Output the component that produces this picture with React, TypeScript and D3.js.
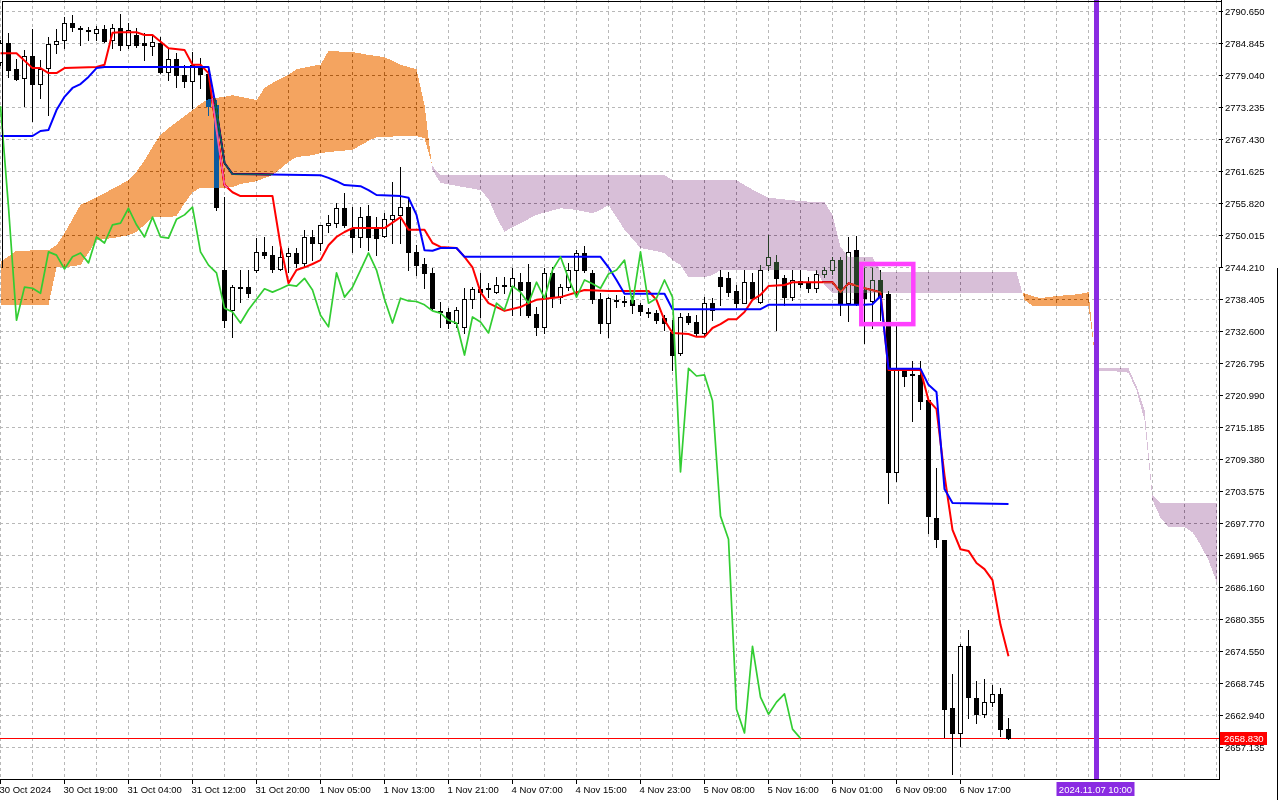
import React, { useEffect, useRef } from 'react';
import * as d3 from 'd3';

type Bar = [number, number, number, number]; // open, high, low, close

// H1 candles from left to right, bar 0 is cut by the left edge
const candles: Bar[] = [
  [2781.4, 2785.4, 2780.9, 2784.9], [2784.8, 2786.7, 2778.7, 2780.0], [2780.1, 2781.9, 2778.1, 2778.3],
  [2778.5, 2783.6, 2773.4, 2782.5], [2782.5, 2787.4, 2770.7, 2777.4], [2777.4, 2781.8, 2774.9, 2780.1],
  [2780.3, 2785.9, 2771.8, 2784.7], [2784.7, 2787.4, 2783.0, 2785.2], [2785.4, 2789.6, 2783.9, 2788.5],
  [2788.5, 2789.9, 2787.0, 2787.8], [2787.6, 2787.9, 2784.5, 2787.4], [2787.2, 2787.8, 2785.4, 2787.1],
  [2786.7, 2787.9, 2785.4, 2787.4], [2787.4, 2788.1, 2785.0, 2785.2], [2785.4, 2788.3, 2783.9, 2787.6],
  [2787.6, 2790.1, 2783.6, 2784.5], [2784.5, 2788.5, 2783.9, 2787.2], [2786.3, 2787.6, 2784.1, 2784.5],
  [2784.8, 2786.7, 2781.8, 2784.5], [2784.3, 2786.1, 2782.7, 2785.0], [2784.8, 2785.9, 2779.4, 2779.6],
  [2779.6, 2783.9, 2778.1, 2781.9], [2781.9, 2783.0, 2776.9, 2779.1], [2779.1, 2780.9, 2776.9, 2778.0],
  [2778.0, 2783.2, 2773.1, 2780.9], [2780.5, 2782.1, 2776.7, 2779.2], [2779.2, 2780.3, 2771.8, 2773.4],
  [2773.6, 2774.5, 2754.6, 2755.1], [2743.7, 2756.9, 2733.4, 2734.6], [2736.5, 2741.0, 2731.6, 2740.6],
  [2740.6, 2743.7, 2737.9, 2740.4], [2740.6, 2743.7, 2738.8, 2739.5], [2743.7, 2749.5, 2743.3, 2747.0],
  [2747.0, 2749.7, 2745.9, 2746.4], [2746.4, 2748.1, 2743.3, 2743.9], [2743.9, 2747.7, 2743.7, 2746.1],
  [2746.2, 2747.7, 2743.3, 2746.8], [2746.8, 2747.7, 2744.2, 2745.0], [2745.0, 2751.0, 2744.2, 2749.7],
  [2749.7, 2751.0, 2745.5, 2748.6], [2748.6, 2751.9, 2747.3, 2751.9], [2751.9, 2753.7, 2750.6, 2752.2],
  [2752.2, 2755.8, 2751.5, 2754.9], [2754.9, 2757.7, 2751.5, 2751.9], [2751.3, 2755.1, 2747.0, 2749.7],
  [2749.7, 2755.1, 2747.9, 2753.3], [2753.5, 2755.5, 2747.3, 2749.7], [2751.3, 2753.3, 2746.4, 2749.5],
  [2749.9, 2754.0, 2749.7, 2752.9], [2752.9, 2759.7, 2748.6, 2753.7], [2753.7, 2762.4, 2748.6, 2755.1],
  [2755.1, 2756.8, 2743.7, 2747.0], [2747.0, 2748.2, 2742.8, 2744.6], [2744.8, 2745.9, 2740.4, 2743.2],
  [2743.2, 2744.1, 2736.5, 2736.8], [2736.3, 2737.9, 2733.4, 2736.1], [2736.1, 2736.8, 2733.2, 2734.1],
  [2734.1, 2737.0, 2733.4, 2736.5], [2733.4, 2740.4, 2732.3, 2738.4], [2738.4, 2740.6, 2736.8, 2740.3],
  [2740.3, 2743.2, 2735.2, 2739.7], [2740.4, 2741.3, 2738.8, 2740.3], [2739.7, 2742.4, 2739.5, 2741.0],
  [2741.0, 2742.4, 2739.5, 2740.8], [2740.8, 2744.1, 2735.5, 2742.2], [2741.5, 2743.2, 2735.5, 2740.1],
  [2741.5, 2744.8, 2735.2, 2735.5], [2735.7, 2737.0, 2731.9, 2733.4], [2733.4, 2744.1, 2732.3, 2743.2],
  [2743.2, 2744.2, 2737.0, 2738.8], [2738.8, 2741.2, 2737.7, 2740.6], [2740.6, 2745.0, 2740.1, 2743.7],
  [2743.7, 2747.3, 2738.8, 2746.8], [2746.8, 2748.0, 2743.3, 2743.7], [2743.2, 2743.7, 2737.7, 2738.4],
  [2738.4, 2739.5, 2732.3, 2734.1], [2734.1, 2738.8, 2731.6, 2738.6], [2738.3, 2739.2, 2737.0, 2738.1],
  [2738.1, 2739.0, 2737.2, 2738.0], [2738.3, 2739.0, 2735.9, 2737.4], [2737.4, 2737.7, 2735.5, 2736.3],
  [2736.1, 2736.8, 2735.2, 2735.9], [2735.9, 2736.5, 2734.1, 2734.6], [2735.0, 2735.5, 2732.8, 2734.1],
  [2732.5, 2734.6, 2725.6, 2728.3], [2728.6, 2735.9, 2728.3, 2735.2], [2735.4, 2735.9, 2733.9, 2734.3],
  [2734.3, 2735.5, 2731.9, 2732.3], [2732.3, 2738.8, 2731.9, 2737.7], [2737.7, 2738.6, 2734.6, 2736.5],
  [2742.4, 2743.7, 2737.4, 2740.8], [2742.3, 2743.3, 2739.0, 2739.7], [2739.9, 2741.0, 2737.0, 2737.7],
  [2737.7, 2743.7, 2737.7, 2741.5], [2741.5, 2743.2, 2738.3, 2738.6], [2737.9, 2744.6, 2737.7, 2743.7],
  [2744.6, 2750.0, 2743.7, 2746.1], [2745.2, 2746.4, 2732.8, 2742.2], [2742.2, 2742.8, 2737.4, 2738.8],
  [2738.8, 2743.7, 2738.3, 2741.9], [2741.7, 2743.7, 2740.6, 2741.2], [2741.3, 2742.4, 2739.7, 2740.4],
  [2740.4, 2743.7, 2739.7, 2743.0], [2743.0, 2744.2, 2742.4, 2743.7], [2743.7, 2746.1, 2743.0, 2745.5],
  [2745.5, 2746.1, 2735.5, 2737.7], [2737.7, 2749.7, 2734.5, 2747.0], [2747.3, 2749.9, 2737.4, 2737.7],
  [2740.1, 2744.1, 2730.5, 2738.6], [2738.1, 2744.1, 2733.2, 2741.9], [2741.9, 2743.7, 2734.6, 2738.8],
  [2739.3, 2739.9, 2701.5, 2707.1], [2707.1, 2733.9, 2705.4, 2725.9], [2725.6, 2725.9, 2722.7, 2724.5],
  [2724.9, 2727.2, 2716.3, 2724.7], [2724.7, 2727.2, 2718.5, 2720.0], [2720.1, 2720.5, 2696.0, 2699.1],
  [2698.7, 2707.8, 2693.5, 2694.9], [2694.8, 2694.8, 2659.1, 2664.1], [2664.3, 2670.5, 2652.3, 2659.8],
  [2659.8, 2675.9, 2657.4, 2675.5], [2675.5, 2678.4, 2662.5, 2666.3], [2666.1, 2669.2, 2661.6, 2663.2],
  [2663.2, 2669.6, 2662.7, 2665.4], [2665.4, 2668.5, 2664.7, 2666.9], [2666.9, 2668.0, 2659.2, 2660.5],
  [2660.5, 2662.5, 2658.7, 2658.83],
];

// tenkan-sen / kijun-sen as [bar, value] break points
const tenkan: [number, number][] = [
  [0, 2783.0], [2, 2783.0], [4, 2780.3], [5, 2780.3], [6, 2779.4], [7, 2779.4], [8, 2780.3], [12, 2780.5],
  [13, 2780.9], [14, 2786.7], [15, 2786.8], [17, 2786.8], [18, 2786.3], [19, 2786.3], [21, 2783.9], [23, 2783.6],
  [24, 2780.9], [25, 2780.9], [26, 2779.4], [27, 2769.1], [28, 2759.1], [29, 2757.8], [30, 2757.1], [34, 2757.1],
  [35, 2748.2], [36, 2741.3], [37, 2743.7], [38, 2744.2], [39, 2744.8], [40, 2745.5], [41, 2748.2], [42, 2749.7],
  [43, 2750.6], [44, 2751.3], [48, 2751.3], [50, 2753.3], [51, 2751.0], [53, 2751.0], [54, 2748.6], [55, 2747.9],
  [57, 2747.7], [58, 2746.1], [59, 2744.2], [60, 2739.7], [61, 2737.7], [63, 2736.3], [65, 2737.0], [66, 2737.7],
  [67, 2738.3], [70, 2738.8], [73, 2740.1], [76, 2739.9], [81, 2739.9], [82, 2738.3], [83, 2734.6], [84, 2732.3],
  [86, 2732.1], [87, 2731.6], [88, 2731.6], [89, 2733.2], [90, 2733.9], [91, 2734.8], [92, 2734.8], [93, 2736.1],
  [94, 2738.3], [95, 2739.2], [96, 2740.8], [98, 2741.0], [99, 2741.5], [104, 2741.5], [105, 2739.7], [106, 2741.3],
  [108, 2740.4], [110, 2739.7], [111, 2725.6], [115, 2725.6], [116, 2720.1], [117, 2718.5], [118, 2706.5],
  [119, 2696.6], [120, 2693.1], [121, 2692.8], [122, 2690.6], [123, 2689.5], [124, 2687.5], [125, 2679.4],
  [126, 2673.7],
];

const kijun: [number, number][] = [
  [0, 2768.0], [4, 2768.0], [5, 2768.9], [6, 2769.1], [7, 2772.7], [8, 2775.1], [9, 2776.7], [10, 2777.4],
  [11, 2778.7], [12, 2780.3], [13, 2780.5], [26, 2780.5], [27, 2772.7], [28, 2763.1], [29, 2761.1], [40, 2760.9],
  [41, 2760.4], [42, 2759.8], [43, 2759.1], [45, 2758.9], [46, 2758.2], [47, 2757.3], [50, 2757.1], [51, 2756.8],
  [52, 2753.7], [53, 2747.3], [54, 2747.2], [55, 2747.7], [57, 2747.7], [58, 2746.1], [75, 2746.1], [76, 2744.2],
  [77, 2741.9], [78, 2739.4], [83, 2739.4], [84, 2736.6], [95, 2736.6], [96, 2737.4], [108, 2737.4], [109, 2737.5],
  [110, 2739.0], [111, 2725.8], [115, 2725.8], [116, 2722.9], [117, 2721.6], [118, 2704.0], [119, 2701.5],
  [126, 2701.3],
];

// senkou span A / B, already drawn 26 bars ahead
const kumoBars = [
  0, 2, 6, 7, 8, 10, 12, 14, 16, 17, 18, 19, 20, 21, 22, 23, 24, 25, 26, 28, 29, 30, 32, 33, 34, 36, 37, 39, 40, 41,
  44, 46, 47, 48, 50, 52, 53, 54, 55, 58, 60, 61, 62, 63, 64, 65, 67, 70, 72, 74, 75, 76, 77, 78, 80, 83, 84, 85, 86,
  88, 89, 90, 92, 93, 95, 96, 100, 102, 103, 104, 105, 106, 109, 110, 127, 128, 129, 130, 132, 134, 135, 136, 137,
  140, 141, 142, 143, 144, 145, 146, 148, 149, 150, 151, 152,
];
const spanA = [
  2745.2, 2747.2, 2747.3, 2748.2, 2750.4, 2755.5, 2756.9, 2758.4, 2760.0, 2761.5, 2763.6, 2766.0, 2768.2, 2769.4,
  2770.5, 2771.6, 2772.7, 2773.8, 2774.7, 2775.1, 2775.4, 2775.1, 2774.5, 2776.7, 2777.6, 2779.1, 2780.1, 2780.7,
  2780.9, 2783.4, 2783.2, 2782.7, 2782.5, 2782.3, 2780.9, 2780.1, 2773.6, 2761.8, 2759.5, 2758.7, 2758.2, 2756.6,
  2753.3, 2750.6, 2751.5, 2752.2, 2753.7, 2754.9, 2754.6, 2754.0, 2754.6, 2755.5, 2753.3, 2751.0, 2747.7, 2746.8,
  2745.5, 2744.6, 2742.4, 2742.4, 2742.8, 2743.7, 2743.7, 2743.7, 2743.7, 2743.7, 2743.7, 2743.5, 2741.0, 2739.5,
  2739.5, 2739.5, 2739.5, 2739.5, 2739.5, 2739.5, 2739.0, 2738.6, 2739.0, 2739.2, 2739.4, 2739.7, 2725.4, 2725.3,
  2725.1, 2721.9, 2716.5, 2702.0, 2698.8, 2697.1, 2697.1, 2696.2, 2693.9, 2691.1, 2687.2,
];
const spanB = [
  2737.4, 2737.4, 2737.4, 2744.2, 2744.2, 2744.6, 2749.1, 2749.5, 2750.0, 2750.6, 2751.9, 2753.3, 2753.3, 2753.3,
  2753.5, 2755.8, 2757.8, 2758.6, 2758.6, 2758.6, 2758.7, 2759.3, 2759.8, 2760.4, 2760.9, 2763.3, 2764.2, 2764.5,
  2764.9, 2765.1, 2765.5, 2767.1, 2767.8, 2767.8, 2768.0, 2768.0, 2767.6, 2762.5, 2760.9, 2760.9, 2760.9, 2760.9,
  2760.9, 2760.9, 2760.9, 2760.9, 2760.9, 2760.9, 2760.9, 2760.9, 2760.9, 2760.9, 2760.9, 2760.9, 2760.9, 2760.9,
  2760.0, 2760.0, 2760.0, 2760.0, 2760.0, 2760.0, 2760.0, 2759.1, 2757.5, 2756.8, 2756.2, 2756.0, 2756.0, 2753.7,
  2747.9, 2746.1, 2746.1, 2743.3, 2743.3, 2738.3, 2737.2, 2737.2, 2737.2, 2737.2, 2737.2, 2737.2, 2726.0, 2726.0,
  2725.9, 2722.6, 2718.3, 2702.9, 2701.5, 2701.5, 2701.5, 2701.5, 2701.5, 2701.5, 2701.5,
];

const chikouShift = 26;
const lastPrice = 2658.83;

const priceTicks = [
  '2790.650', '2784.845', '2779.040', '2773.235', '2767.430', '2761.625', '2755.820', '2750.015', '2744.210',
  '2738.405', '2732.600', '2726.795', '2720.990', '2715.185', '2709.380', '2703.575', '2697.770', '2691.965',
  '2686.160', '2680.355', '2674.550', '2668.745', '2662.940', '2657.135',
];

const timeTicks: [number, string][] = [
  [0, '30 Oct 2024'], [8, '30 Oct 19:00'], [16, '31 Oct 04:00'], [24, '31 Oct 12:00'], [32, '31 Oct 20:00'],
  [40, '1 Nov 05:00'], [48, '1 Nov 13:00'], [56, '1 Nov 21:00'], [64, '4 Nov 07:00'], [72, '4 Nov 15:00'],
  [80, '4 Nov 23:00'], [88, '5 Nov 08:00'], [96, '5 Nov 16:00'], [104, '6 Nov 01:00'], [112, '6 Nov 09:00'],
  [120, '6 Nov 17:00'],
];

const markerBar = 137;
const markerLabel = '2024.11.07 10:00';
const boxBars: [number, number] = [107.6, 114.1];
const boxPrices: [number, number] = [2744.8, 2733.9];

const W = 1280;
const H = 800;
const plotRight = 1219;
const plotBottom = 779;
const FONT = "'Liberation Sans', Arial, sans-serif";

type KP = { i: number; a: number; b: number };

const IchimokuChart: React.FC = () => {
  const svgRef = useRef<SVGSVGElement>(null);

  useEffect(() => {
    if (!svgRef.current) return;
    const svg = d3.select(svgRef.current);
    svg.selectAll('*').remove();

    const x = d3.scaleLinear().domain([0, 152]).range([0.5, 1216.5]);
    const y = d3.scaleLinear().domain([2657.135, 2790.65]).range([747.7, 11]);
    const px = (v: number) => Math.floor(v) + 0.5;

    svg.append('rect').attr('width', W).attr('height', H).attr('fill', '#fff');

    // grid
    const grid = svg.append('g')
      .attr('stroke', '#b8b8b8')
      .attr('stroke-dasharray', '3,3')
      .attr('shape-rendering', 'crispEdges');
    priceTicks.forEach(t => {
      const yy = px(y(+t));
      grid.append('line').attr('x1', 0).attr('x2', plotRight).attr('y1', yy).attr('y2', yy);
    });
    d3.range(0, 153, 4).forEach(i => {
      const xx = px(x(i));
      grid.append('line').attr('x1', xx).attr('x2', xx).attr('y1', 0).attr('y2', plotBottom);
    });

    // bid line
    const yLast = px(y(lastPrice));
    svg.append('line')
      .attr('x1', 0).attr('x2', plotRight).attr('y1', yLast).attr('y2', yLast)
      .attr('stroke', '#ff0000').attr('shape-rendering', 'crispEdges');

    // candles
    const cg = svg.append('g').attr('shape-rendering', 'crispEdges');
    candles.forEach(([o, h, l, c], i) => {
      const cx = px(x(i));
      cg.append('line')
        .attr('x1', cx).attr('x2', cx)
        .attr('y1', Math.round(y(h))).attr('y2', Math.round(y(l)) + 1)
        .attr('stroke', '#000');
      const top = Math.round(y(Math.max(o, c)));
      const bot = Math.round(y(Math.min(o, c)));
      if (bot - top < 1) {
        cg.append('line')
          .attr('x1', cx - 2.5).attr('x2', cx + 2.5)
          .attr('y1', top + 0.5).attr('y2', top + 0.5)
          .attr('stroke', '#000');
      } else {
        cg.append('rect')
          .attr('x', cx - 2).attr('y', top + 0.5)
          .attr('width', 4).attr('height', bot - top)
          .attr('fill', c >= o ? '#fff' : '#000')
          .attr('stroke', '#000');
      }
    });

    const line = d3.line<[number, number]>()
      .x(d => x(d[0]))
      .y(d => y(d[1]));

    svg.append('path').datum(tenkan)
      .attr('d', line).attr('fill', 'none')
      .attr('stroke', '#ff0000').attr('stroke-width', 2).attr('stroke-linejoin', 'round');
    svg.append('path').datum(kijun)
      .attr('d', line).attr('fill', 'none')
      .attr('stroke', '#0000ff').attr('stroke-width', 2).attr('stroke-linejoin', 'round');

    // kumo: split into runs of the same sign, drawn in xor-like "difference" mode like MT4
    const kumo: KP[] = kumoBars.map((i, k) => ({ i, a: spanA[k], b: spanB[k] }));
    const runs: { up: boolean; pts: KP[] }[] = [];
    let cur: { up: boolean; pts: KP[] } | null = null;
    kumo.forEach((p, k) => {
      const up = p.a >= p.b;
      if (!cur) {
        cur = { up, pts: [p] };
      } else if (cur.up === up) {
        cur.pts.push(p);
      } else {
        const q = kumo[k - 1];
        const d1 = q.a - q.b;
        const d2 = p.a - p.b;
        const t = d1 / (d1 - d2);
        const v = q.a + t * (p.a - q.a);
        const cross = { i: q.i + t * (p.i - q.i), a: v, b: v };
        cur.pts.push(cross);
        runs.push(cur);
        cur = { up, pts: [cross, p] };
      }
    });
    if (cur) runs.push(cur);

    const area = d3.area<KP>()
      .x(d => x(d.i))
      .y0(d => y(d.a))
      .y1(d => y(d.b));
    const kg = svg.append('g');
    runs.forEach(r => {
      kg.append('path').datum(r.pts)
        .attr('d', area)
        .attr('fill', r.up ? '#0b5b9f' : '#274027') // inverse of sandybrown / thistle
        .attr('shape-rendering', 'crispEdges')
        .style('mix-blend-mode', 'difference');
    });

    // chikou span
    const chikou: [number, number][] = candles.slice(chikouShift).map((c, k) => [k, c[3]]);
    svg.append('path').datum(chikou)
      .attr('d', line).attr('fill', 'none')
      .attr('stroke', '#32cd32').attr('stroke-width', 1.7).attr('stroke-linejoin', 'round');

    // drawn rectangle object
    svg.append('rect')
      .attr('x', x(boxBars[0])).attr('y', y(boxPrices[0]))
      .attr('width', x(boxBars[1]) - x(boxBars[0]))
      .attr('height', y(boxPrices[1]) - y(boxPrices[0]))
      .attr('fill', 'none').attr('stroke', '#ff40ff').attr('stroke-width', 4.5);

    // vertical line object
    const mx = x(markerBar);
    svg.append('line')
      .attr('x1', mx).attr('x2', mx).attr('y1', 0).attr('y2', plotBottom)
      .attr('stroke', '#8a2be2').attr('stroke-width', 5);

    // frame
    const frame = svg.append('g').attr('stroke', '#000').attr('shape-rendering', 'crispEdges');
    frame.append('line').attr('x1', 0).attr('x2', plotRight).attr('y1', plotBottom + 0.5).attr('y2', plotBottom + 0.5);
    frame.append('line').attr('x1', plotRight + 0.5).attr('x2', plotRight + 0.5).attr('y1', 268).attr('y2', plotBottom + 1);
    frame.append('line').attr('x1', 1221.5).attr('x2', 1221.5).attr('y1', 0).attr('y2', 268);
    frame.append('line').attr('x1', 2).attr('x2', 1222).attr('y1', 1.5).attr('y2', 1.5);
    frame.append('line').attr('x1', 2.5).attr('x2', 2.5).attr('y1', 1).attr('y2', 268);
    frame.append('line').attr('x1', 1277.5).attr('x2', 1277.5).attr('y1', 268).attr('y2', H);

    // price scale
    const axisR = svg.append('g').attr('font-family', FONT).attr('font-size', '9.5px').attr('fill', '#000');
    priceTicks.forEach(t => {
      const yy = px(y(+t));
      axisR.append('line').attr('x1', plotRight).attr('x2', plotRight + 4).attr('y1', yy).attr('y2', yy)
        .attr('stroke', '#000').attr('shape-rendering', 'crispEdges');
      axisR.append('text').attr('x', 1225).attr('y', yy + 3.5).text(t);
    });
    axisR.append('rect').attr('x', 1220).attr('y', yLast - 6.5).attr('width', 47).attr('height', 13).attr('fill', '#ff0000');
    axisR.append('text').attr('x', 1224).attr('y', yLast + 3.5).attr('fill', '#fff').text(lastPrice.toFixed(3));

    // time scale
    const axisB = svg.append('g').attr('font-family', FONT).attr('font-size', '9.5px').attr('fill', '#000');
    timeTicks.forEach(([i, label]) => {
      const xx = px(x(i));
      axisB.append('line').attr('x1', xx).attr('x2', xx).attr('y1', plotBottom).attr('y2', plotBottom + 5)
        .attr('stroke', '#000').attr('shape-rendering', 'crispEdges');
      axisB.append('text').attr('x', xx - 1).attr('y', 793).text(label);
    });
    axisB.append('rect').attr('x', mx - 40).attr('y', 782).attr('width', 78).attr('height', 14).attr('fill', '#8a2be2');
    axisB.append('text').attr('x', mx - 1).attr('y', 793).attr('text-anchor', 'middle').attr('fill', '#fff').text(markerLabel);
  }, []);

  return (
    <div style={{ position: 'absolute', left: 0, top: 0, width: W, height: H, background: '#fff' }}>
      <svg ref={svgRef} width={W} height={H} style={{ display: 'block' }} />
    </div>
  );
};

export default function App() {
  return <IchimokuChart />;
}
